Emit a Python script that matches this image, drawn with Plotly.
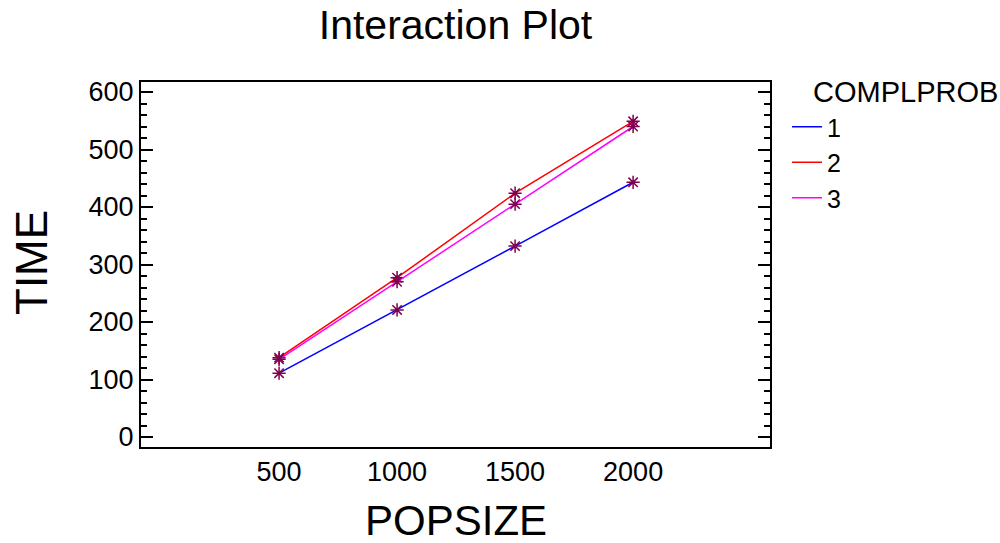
import plotly.graph_objects as go

popsize = [500, 1000, 1500, 2000]
levels = ["1", "2", "3"]
time_1 = [111, 221, 332, 443]
time_2 = [138, 277, 424, 549]
time_3 = [135, 270, 405, 540]
series = [time_1, time_2, time_3]
colors = ["#0000FF", "#FF0000", "#FF00FF"]
marker_color = "#800050"

W, H = 1000, 543
L, R, T, B = 141, 770, 82, 447

fig = go.Figure()
for lvl, ys, c in zip(levels, series, colors):
    fig.add_trace(go.Scatter(
        x=popsize, y=ys, mode="lines+markers", name=lvl, showlegend=False,
        line=dict(color=c, width=1.5),
        marker=dict(symbol="asterisk-open", size=11, color=marker_color,
                    line=dict(color=marker_color, width=1.5)),
    ))
for lvl, c in zip(levels, colors):
    fig.add_trace(go.Scatter(
        x=[None], y=[None], mode="lines", name=lvl, showlegend=True,
        line=dict(color=c, width=1.5),
    ))

font = "Liberation Sans, Arial, sans-serif"
pw = R - L
ph = B - T


def px_to_paper(px, py):
    return (px - L) / pw, (B - py) / ph


ax, ay = px_to_paper(31, 263)
bx, by = px_to_paper(456, 520)
cx, cy = px_to_paper(811, 92)

fig.update_layout(
    width=W, height=H,
    margin=dict(l=L, r=W - R, t=T, b=H - B),
    paper_bgcolor="white", plot_bgcolor="white",
    font=dict(family=font, color="black", size=24),
    title=dict(text="Interaction Plot", x=(L + R) / 2 / W, xref="container", xanchor="center",
               y=1 - 25 / H, yref="container", yanchor="middle",
               font=dict(size=41, family=font, color="black")),
    showlegend=True,
    legend=dict(x=(787 - L) / pw, xanchor="left", y=(B - 104) / ph, yanchor="top",
                font=dict(size=25, family=font, color="black"),
                bgcolor="rgba(0,0,0,0)", borderwidth=0, tracegroupgap=0),
    xaxis=dict(range=[-85, 2580], tickvals=popsize, ticktext=[str(p) for p in popsize],
               ticks="", showgrid=False, zeroline=False, showline=True, mirror=True,
               linecolor="black", linewidth=2, tickfont=dict(size=27, family=font)),
    yaxis=dict(range=[-17.4, 617.4], tickvals=[0, 100, 200, 300, 400, 500, 600],
               ticks="inside", ticklen=12, tickwidth=2, tickcolor="black",
               minor=dict(dtick=20, ticks="inside", ticklen=6, tickwidth=1.5, tickcolor="black"),
               showgrid=False, zeroline=False, showline=True, mirror="allticks",
               linecolor="black", linewidth=2, tickfont=dict(size=27, family=font)),
    annotations=[
        dict(text="TIME", x=ax, y=ay, xref="paper", yref="paper", showarrow=False,
             xanchor="center", yanchor="middle",
             textangle=-90, font=dict(size=44, family=font, color="black")),
        dict(text="POPSIZE", x=bx, y=by, xref="paper", yref="paper", showarrow=False,
             xanchor="center", yanchor="middle",
             font=dict(size=42, family=font, color="black")),
        dict(text="COMPLPROB", x=cx, y=cy, xref="paper", yref="paper", showarrow=False,
             xanchor="left", yanchor="middle", font=dict(size=29, family=font, color="black")),
    ],
)

fig.write_html("out.html", config={"displayModeBar": False},
               post_script="document.body.style.margin='0px';")
